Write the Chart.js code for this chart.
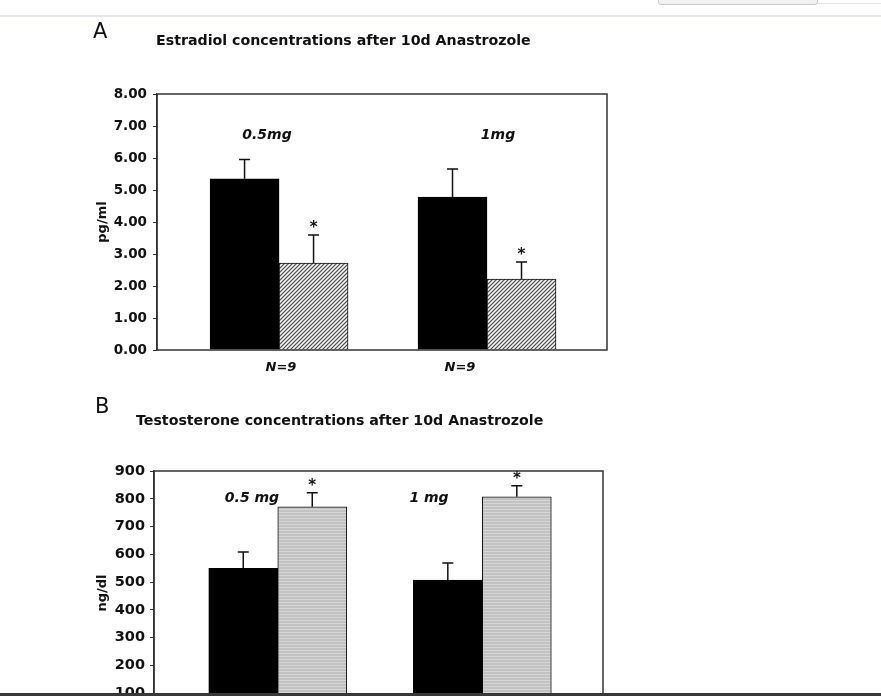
<!DOCTYPE html>
<html lang="en">
<head>
  <meta charset="UTF-8" />
  <title>Hormone concentrations after 10d Anastrozole</title>
  <script src="https://cdn.jsdelivr.net/npm/chart.js"></script>
  <style>
    html, body { margin: 0; padding: 0; background: #fff; overflow: hidden; width: 881px; height: 696px; }
    .page { position: relative; width: 881px; height: 696px; overflow: hidden; }
    canvas { position: absolute; left: 0; }
    #chartA { top: 0; }
    #chartB { top: 380px; }
    .topline { position: absolute; left: 0; top: 15px; width: 881px; height: 2px; background: #e2e7ee; }
    .tab { position: absolute; left: 658px; top: -4px; width: 158px; height: 7px; background: #f2f2f2; border: 1px solid #c9c9c9; border-radius: 0 0 3px 3px; }
    .tabline { position: absolute; left: 818px; top: 3px; width: 63px; height: 1px; background: #dfe6ef; }
    .bottombar { position: absolute; left: 0; top: 693px; width: 881px; height: 3px; background: #383838; }
  </style>
</head>
<body>
  <div class="page">
    <div class="topline"></div>
    <div class="tab"></div>
    <div class="tabline"></div>
    <canvas id="chartA" width="700" height="380"></canvas>
    <canvas id="chartB" width="700" height="360"></canvas>
    <div class="bottombar"></div>
  </div>

  <script>
    // groups (dose) on a linear x axis
    const groupPos = [1, 2];
    const doseLabelsA = ['0.5mg', '1mg'];
    const doseLabelsB = ['0.5 mg', '1 mg'];
    const nLabels = ['N=9', 'N=9'];

    // Panel A: estradiol, pg/ml (before / after 10d)
    const e2Before = [5.35, 4.78];
    const e2BeforeErr = [0.60, 0.88];
    const e2After = [2.72, 2.22];
    const e2AfterErr = [0.87, 0.53];

    // Panel B: testosterone, ng/dl
    const tBefore = [550, 507];
    const tBeforeErr = [58, 62];
    const tAfter = [771, 807];
    const tAfterErr = [51, 40];

    const INK = '#111';
    const FONT = '"DejaVu Sans", sans-serif';

    // fill patterns
    function hatchPattern() {
      const c = document.createElement('canvas');
      c.width = 4; c.height = 4;
      const g = c.getContext('2d');
      g.fillStyle = '#f2f2f2';
      g.fillRect(0, 0, 4, 4);
      g.strokeStyle = '#4a4a4a';
      g.lineWidth = 1.2;
      g.beginPath();
      g.moveTo(0, 4); g.lineTo(4, 0);
      g.moveTo(-1, 1); g.lineTo(1, -1);
      g.moveTo(3, 5); g.lineTo(5, 3);
      g.stroke();
      return g.createPattern(c, 'repeat');
    }
    function greyPattern() {
      const c = document.createElement('canvas');
      c.width = 2; c.height = 3;
      const g = c.getContext('2d');
      g.fillStyle = '#c2c2c2';
      g.fillRect(0, 0, 2, 3);
      g.fillStyle = '#d6d6d6';
      g.fillRect(0, 0, 2, 1);
      return g.createPattern(c, 'repeat');
    }

    function txt(ctx, s, x, y, font, align) {
      ctx.save();
      ctx.font = font;
      ctx.fillStyle = INK;
      ctx.textAlign = align || 'center';
      ctx.textBaseline = 'alphabetic';
      ctx.fillText(s, x, y);
      ctx.restore();
    }
    function vtxt(ctx, s, x, y, font) {
      ctx.save();
      ctx.translate(x, y);
      ctx.rotate(-Math.PI / 2);
      ctx.font = font;
      ctx.fillStyle = INK;
      ctx.textAlign = 'center';
      ctx.textBaseline = 'middle';
      ctx.fillText(s, 0, 0);
      ctx.restore();
    }

    // frame, error bars, stars and labels
    const panelPlugin = {
      id: 'panel',
      afterDatasetsDraw(chart, args, opts) {
        const ctx = chart.ctx;
        const a = chart.chartArea;
        const y = chart.scales.y;

        ctx.save();
        ctx.strokeStyle = '#333';
        ctx.lineWidth = 1.5;
        ctx.strokeRect(a.left, a.top, a.right - a.left, a.bottom - a.top);

        ctx.strokeStyle = INK;
        ctx.lineWidth = 1.5;
        opts.errors.forEach((errs, di) => {
          const meta = chart.getDatasetMeta(di);
          const vals = chart.data.datasets[di].data;
          meta.data.forEach((bar, i) => {
            const top = y.getPixelForValue(vals[i].y);
            const cap = y.getPixelForValue(vals[i].y + errs[i]);
            ctx.beginPath();
            ctx.moveTo(bar.x, top);
            ctx.lineTo(bar.x, cap);
            ctx.moveTo(bar.x - 5.5, cap);
            ctx.lineTo(bar.x + 5.5, cap);
            ctx.stroke();
            if (di === 1) {
              txt(ctx, '*', bar.x, cap - 3, 'bold 15px ' + FONT);
            }
          });
        });
        ctx.restore();

        const dy = opts.offsetY;
        txt(ctx, opts.letter, opts.letterX, opts.letterY - dy, 'normal 21px ' + FONT, 'left');
        txt(ctx, opts.title, opts.titleX, opts.titleY - dy, 'bold 14.2px ' + FONT, 'left');
        vtxt(ctx, opts.yTitle, 103, opts.yTitleY - dy, 'bold 13px ' + FONT);
        opts.doses.forEach((d, i) => {
          txt(ctx, d, opts.doseX[i], opts.doseY - dy, 'italic bold 14px ' + FONT);
        });
        if (opts.nLabels) {
          opts.nLabels.forEach((n, i) => {
            txt(ctx, n, opts.nX[i], opts.nY - dy, 'italic bold 13px ' + FONT);
          });
        }
      }
    };

    function makePanel(id, cfg) {
      new Chart(document.getElementById(id), {
        type: 'bar',
        data: {
          datasets: [
            {
              data: groupPos.map((x, i) => ({ x: x, y: cfg.before[i] })),
              backgroundColor: '#000',
              borderColor: '#000',
              borderWidth: 1,
              barThickness: 69
            },
            {
              data: groupPos.map((x, i) => ({ x: x, y: cfg.after[i] })),
              backgroundColor: cfg.afterFill,
              borderColor: '#111',
              borderWidth: 1,
              barThickness: 69
            }
          ]
        },
        options: {
          responsive: false,
          animation: false,
          layout: { padding: cfg.padding },
          plugins: {
            legend: { display: false },
            tooltip: { enabled: false },
            panel: cfg.panel
          },
          scales: {
            x: {
              type: 'linear',
              display: false,
              offset: false,
              bounds: 'data',
              min: cfg.xMin,
              max: cfg.xMax
            },
            y: {
              min: 0,
              max: cfg.yMax,
              afterFit(s) { s.width = cfg.axisX; },
              grid: { drawOnChartArea: false, tickLength: 4, color: '#333', lineWidth: 1 },
              border: { display: true, color: '#333', width: 1.5 },
              ticks: {
                stepSize: cfg.step,
                padding: cfg.tickPad,
                color: INK,
                font: { family: FONT, weight: 'bold', size: cfg.tickSize },
                callback: cfg.tickFmt
              }
            }
          }
        },
        plugins: [panelPlugin]
      });
    }

    makePanel('chartA', {
      before: e2Before,
      after: e2After,
      afterFill: hatchPattern(),
      padding: { left: 0, top: 94, right: 93, bottom: 30 },
      axisX: 157,
      xMin: 0.413, xMax: 2.577,
      yMax: 8, step: 1, tickSize: 13.5, tickPad: 6,
      tickFmt: v => v.toFixed(2),
      panel: {
        offsetY: 0,
        errors: [e2BeforeErr, e2AfterErr],
        letter: 'A', letterX: 93, letterY: 38,
        title: 'Estradiol concentrations after 10d Anastrozole', titleX: 156, titleY: 45.3,
        yTitle: 'pg/ml', yTitleY: 222,
        doses: doseLabelsA, doseX: [267, 498], doseY: 138.5,
        nLabels: nLabels, nX: [281, 460], nY: 371
      }
    });

    makePanel('chartB', {
      before: tBefore,
      after: tAfter,
      afterFill: greyPattern(),
      padding: { left: 0, top: 91, right: 97, bottom: 19 },
      axisX: 154,
      xMin: 0.395, xMax: 2.59,
      yMax: 900, step: 100, tickSize: 14.5, tickPad: 5,
      tickFmt: v => String(v),
      panel: {
        offsetY: 380,
        errors: [tBeforeErr, tAfterErr],
        letter: 'B', letterX: 95, letterY: 413,
        title: 'Testosterone concentrations after 10d Anastrozole', titleX: 136, titleY: 425.3,
        yTitle: 'ng/dl', yTitleY: 593,
        doses: doseLabelsB, doseX: [252, 429], doseY: 501.5
      }
    });
  </script>
</body>
</html>
